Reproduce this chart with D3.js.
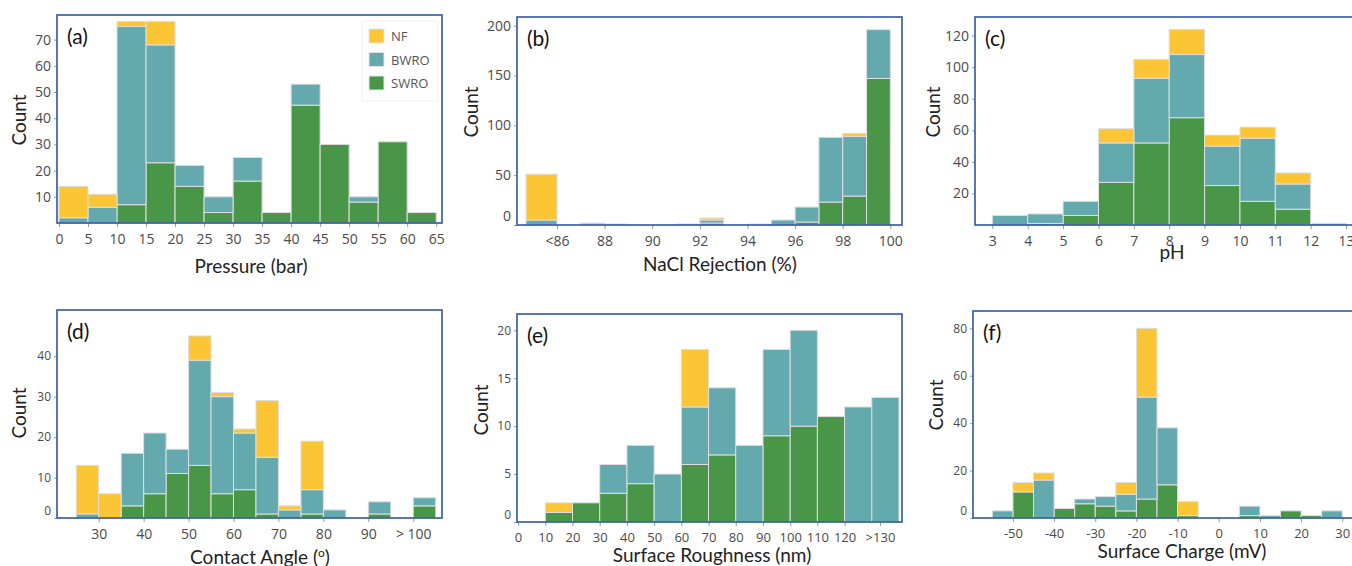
<!DOCTYPE html>
<html>
<head>
<meta charset="utf-8">
<script src="https://cdn.jsdelivr.net/npm/d3@7/dist/d3.min.js"></script>
<style>
  body { margin: 0; background: #fff; }
  text { font-family: "Open Sans", sans-serif; }
</style>
</head>
<body>
<svg id="chart" width="1352" height="566"></svg>
<script>
// couleurs par type de membrane (empilées de bas en haut)
const types = ["SWRO", "BWRO", "NF"];
const colors = { SWRO: "#4a9648", BWRO: "#63a9ae", NF: "#fcc536" };

// (a) Pressure
const pressureEdges = [0, 5, 10, 15, 20, 25, 30, 35, 40, 45, 50, 55, 60, 65];
const pressureSWRO = [0, 0, 7, 23, 14, 4, 16, 4, 45, 30, 8, 31, 4];
const pressureBWRO = [2, 6, 68, 45, 8, 6, 9, 0, 8, 0, 2, 0, 0];
const pressureNF   = [12, 5, 2, 9, 0, 0, 0, 0, 0, 0, 0, 0, 0];
const pressureTicks = [0, 5, 10, 15, 20, 25, 30, 35, 40, 45, 50, 55, 60, 65];
const pressureYTicks = [10, 20, 30, 40, 50, 60, 70];

// (b) NaCl rejection
const rejectionEdges = [84.7, 86, 87, 88, 89, 90, 91, 92, 93, 94, 95, 96, 97, 98, 99, 100];
const rejectionSWRO = [0, 0, 0, 0, 0, 0, 0, 2, 0, 0, 0, 3, 23, 29, 147];
const rejectionBWRO = [5, 0, 0, 1, 0, 0, 1, 3, 0, 1, 5, 15, 65, 60, 49];
const rejectionNF   = [46, 0, 2, 0, 0, 0, 0, 2, 0, 0, 0, 0, 0, 3, 0];
const rejectionTicks = [86, 88, 90, 92, 94, 96, 98, 100];
const rejectionTickLabels = ["<86", "88", "90", "92", "94", "96", "98", "100"];
const rejectionYTicks = [0, 50, 100, 150, 200];

// (c) pH
const phEdges = [3, 4, 5, 6, 7, 8, 9, 10, 11, 12, 13];
const phSWRO = [0, 1, 6, 27, 52, 68, 25, 15, 10, 0];
const phBWRO = [6, 6, 9, 25, 41, 40, 25, 40, 16, 1];
const phNF   = [0, 0, 0, 9, 12, 16, 7, 7, 7, 0];
const phTicks = [3, 4, 5, 6, 7, 8, 9, 10, 11, 12, 13];
const phYTicks = [20, 40, 60, 80, 100, 120];

// (d) Contact angle
const angleEdges = [25, 30, 35, 40, 45, 50, 55, 60, 65, 70, 75, 80, 85, 90, 95, 100, 105];
const angleSWRO = [0, 0, 3, 6, 11, 13, 6, 7, 1, 0, 1, 0, 0, 1, 0, 3];
const angleBWRO = [1, 0, 13, 15, 6, 26, 24, 14, 14, 2, 6, 2, 0, 3, 0, 2];
const angleNF   = [12, 6, 0, 0, 0, 6, 1, 1, 14, 1, 12, 0, 0, 0, 0, 0];
const angleTicks = [30, 40, 50, 60, 70, 80, 90, 100];
const angleTickLabels = ["30", "40", "50", "60", "70", "80", "90", "> 100"];
const angleYTicks = [0, 10, 20, 30, 40];

// (e) Surface roughness
const roughEdges = [10, 20, 30, 40, 50, 60, 70, 80, 90, 100, 110, 120, 130, 140];
const roughSWRO = [1, 2, 3, 4, 0, 6, 7, 0, 9, 10, 11, 0, 0];
const roughBWRO = [0, 0, 3, 4, 5, 6, 7, 8, 9, 10, 0, 12, 13];
const roughNF   = [1, 0, 0, 0, 0, 6, 0, 0, 0, 0, 0, 0, 0];
const roughTicks = [0, 10, 20, 30, 40, 50, 60, 70, 80, 90, 100, 110, 120, 133];
const roughTickLabels = ["0", "10", "20", "30", "40", "50", "60", "70", "80", "90", "100", "110", "120", ">130"];
const roughYTicks = [0, 5, 10, 15, 20];

// (f) Surface charge
const chargeEdges = [-55, -50, -45, -40, -35, -30, -25, -20, -15, -10, -5, 0, 5, 10, 15, 20, 25, 30];
const chargeSWRO = [0, 11, 0, 4, 6, 5, 3, 8, 14, 1, 0, 0, 1, 0, 3, 1, 0];
const chargeBWRO = [3, 0, 16, 0, 2, 4, 7, 43, 24, 0, 0, 0, 4, 1, 0, 0, 3];
const chargeNF   = [0, 4, 3, 0, 0, 0, 5, 29, 0, 6, 0, 0, 0, 0, 0, 0, 0];
const chargeTicks = [-50, -40, -30, -20, -10, 0, 10, 20, 30];
const chargeYTicks = [0, 20, 40, 60, 80];

const svg = d3.select("#chart");

function drawPanel(p) {
    const g = svg.append("g");

    const x = d3.scaleLinear().domain(p.xDomain).range([p.left, p.right]);
    const y = d3.scaleLinear().domain([0, p.yMax]).range([p.bottom, p.top]);

    // lignes de la table : un bin par ligne
    const rows = p.edges.slice(0, -1).map((e, i) => ({
        x0: e, x1: p.edges[i + 1],
        SWRO: p.swro[i], BWRO: p.bwro[i], NF: p.nf[i]
    }));
    const stacked = d3.stack().keys(types)(rows);

    g.append("g")
        .selectAll("g")
        .data(stacked)
        .join("g")
        .attr("fill", d => colors[d.key])
        .selectAll("rect")
        .data(d => d.filter(s => s[1] > s[0]))
        .join("rect")
        .attr("x", d => x(d.data.x0))
        .attr("width", d => x(d.data.x1) - x(d.data.x0))
        .attr("y", d => y(d[1]))
        .attr("height", d => y(d[0]) - y(d[1]))
        .attr("stroke", "#dedede")
        .attr("stroke-width", 1);

    // axes
    const xAxis = g.append("g")
        .attr("transform", `translate(0,${p.bottom})`)
        .call(d3.axisBottom(x).tickValues(p.ticks).tickSize(4).tickPadding(7)
            .tickFormat((d, i) => p.tickLabels ? p.tickLabels[i] : d));
    xAxis.select(".domain").remove();
    xAxis.selectAll(".tick line").attr("stroke", "#999");
    xAxis.selectAll(".tick text")
        .style("font-size", p.xFont + "px")
        .style("font-family", "'Open Sans', sans-serif")
        .attr("fill", "#4a4a4a");

    const yAxis = g.append("g")
        .attr("transform", `translate(${p.left},0)`)
        .call(d3.axisLeft(y).tickValues(p.yTicks).tickSize(3).tickPadding(3));
    yAxis.select(".domain").remove();
    yAxis.selectAll(".tick line").attr("stroke", "#999");
    yAxis.selectAll(".tick text")
        .style("font-size", p.yFont + "px")
        .style("font-family", "'Open Sans', sans-serif")
        .attr("fill", "#4a4a4a")
        .attr("dy", d => d === 0 ? "-0.3em" : "0.32em");

    // cadre bleu
    g.append("rect")
        .attr("x", p.left)
        .attr("y", p.top)
        .attr("width", p.right - p.left)
        .attr("height", p.bottom - p.top)
        .attr("fill", "none")
        .attr("stroke", "#2d57a5")
        .attr("stroke-width", 1.6);

    g.append("text")
        .attr("x", p.left + 10)
        .attr("y", p.top + 29)
        .style("font-family", "Lato, sans-serif")
        .style("font-size", "21px")
        .attr("fill", "#111")
        .text(p.label);

    const xt = g.append("text")
        .attr("x", p.xTitleX)
        .attr("y", p.xTitleY)
        .attr("text-anchor", "middle")
        .style("font-family", "Lato, sans-serif")
        .style("font-size", "19px")
        .attr("fill", "#222")
        .text(p.xTitle);
    if (p.xTitleSup) {
        xt.append("tspan").style("font-size", "12px").attr("baseline-shift", "super").text(p.xTitleSup);
        xt.append("tspan").text(")");
    }

    g.append("text")
        .attr("transform", `translate(${p.yTitleX},${p.yTitleY}) rotate(-90)`)
        .attr("text-anchor", "middle")
        .style("font-family", "Lato, sans-serif")
        .style("font-size", "19px")
        .attr("fill", "#222")
        .text("Count");

    return g;
}

const panelA = drawPanel({
    left: 57, right: 442, top: 15, bottom: 223, xDomain: [-0.34, 66], yMax: 79.4,
    edges: pressureEdges, swro: pressureSWRO, bwro: pressureBWRO, nf: pressureNF,
    ticks: pressureTicks, yTicks: pressureYTicks, xFont: 14, yFont: 14,
    label: "(a)", xTitle: "Pressure (bar)", xTitleX: 251, xTitleY: 273, yTitleX: 26, yTitleY: 120
});

drawPanel({
    left: 517, right: 902, top: 17, bottom: 225, xDomain: [84.32, 100.49], yMax: 208.7,
    edges: rejectionEdges, swro: rejectionSWRO, bwro: rejectionBWRO, nf: rejectionNF,
    ticks: rejectionTicks, tickLabels: rejectionTickLabels, yTicks: rejectionYTicks, xFont: 14, yFont: 14,
    label: "(b)", xTitle: "NaCl Rejection (%)", xTitleX: 720, xTitleY: 271, yTitleX: 478, yTitleY: 112
});

drawPanel({
    left: 975, right: 1362, top: 17, bottom: 225, xDomain: [2.51, 13.45], yMax: 131.8,
    edges: phEdges, swro: phSWRO, bwro: phBWRO, nf: phNF,
    ticks: phTicks, yTicks: phYTicks, xFont: 14, yFont: 14,
    label: "(c)", xTitle: "pH", xTitleX: 1172, xTitleY: 259, yTitleX: 940, yTitleY: 112
});

drawPanel({
    left: 57, right: 442, top: 310, bottom: 518, xDomain: [20.72, 106.4], yMax: 51.4,
    edges: angleEdges, swro: angleSWRO, bwro: angleBWRO, nf: angleNF,
    ticks: angleTicks, tickLabels: angleTickLabels, yTicks: angleYTicks, xFont: 14, yFont: 12,
    label: "(d)", xTitle: "Contact Angle (", xTitleSup: "o", xTitleX: 260, xTitleY: 564, yTitleX: 26, yTitleY: 413
});

drawPanel({
    left: 517, right: 902, top: 314, bottom: 522, xDomain: [-0.4, 141.1], yMax: 21.7,
    edges: roughEdges, swro: roughSWRO, bwro: roughBWRO, nf: roughNF,
    ticks: roughTicks, tickLabels: roughTickLabels, yTicks: roughYTicks, xFont: 13, yFont: 12,
    label: "(e)", xTitle: "Surface Roughness (nm)", xTitleX: 712, xTitleY: 562, yTitleX: 488, yTitleY: 410
});

drawPanel({
    left: 973, right: 1362, top: 311, bottom: 518, xDomain: [-59.7, 34.8], yMax: 87.3,
    edges: chargeEdges, swro: chargeSWRO, bwro: chargeBWRO, nf: chargeNF,
    ticks: chargeTicks, yTicks: chargeYTicks, xFont: 13, yFont: 12,
    label: "(f)", xTitle: "Surface Charge (mV)", xTitleX: 1182, xTitleY: 558, yTitleX: 943, yTitleY: 405
});

// légende du panneau (a)
const legend = panelA.append("g");
legend.append("rect")
    .attr("x", 362).attr("y", 21).attr("width", 76).attr("height", 80)
    .attr("fill", "#fff").attr("stroke", "#f0f0f0");
["NF", "BWRO", "SWRO"].forEach((k, i) => {
    legend.append("rect")
        .attr("x", 369).attr("y", 29 + i * 23.5).attr("width", 15).attr("height", 14)
        .attr("fill", colors[k]).attr("stroke", "#e4e4e4");
    legend.append("text")
        .attr("x", 391).attr("y", 41 + i * 23.5)
        .style("font-size", "13px")
        .attr("fill", "#555")
        .text(k);
});
</script>
</body>
</html>
